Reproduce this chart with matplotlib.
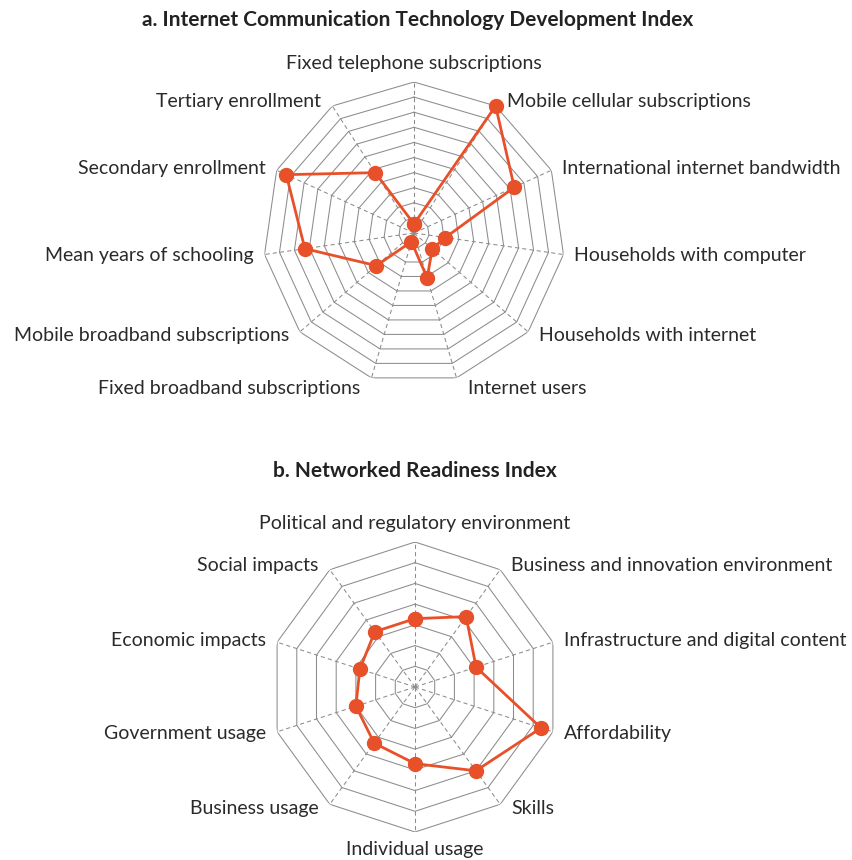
#!/usr/bin/env python3

import numpy as np
import matplotlib.pyplot as plt

plt.rcParams['font.family'] = ['Lato', 'DejaVu Sans']

# a. ICT Development Index (0-10 scale)
ict_labels = ['Fixed telephone subscriptions', 'Mobile cellular subscriptions',
              'International internet bandwidth', 'Households with computer',
              'Households with internet', 'Internet users',
              'Fixed broadband subscriptions', 'Mobile broadband subscriptions',
              'Mean years of schooling', 'Secondary enrollment', 'Tertiary enrollment']
ict_values = [0.6, 10.0, 7.3, 2.1, 1.6, 3.1, 0.6, 3.3, 7.3, 9.3, 4.75]

# b. Networked Readiness Index (0-7 scale)
nri_labels = ['Political and regulatory environment', 'Business and innovation environment',
              'Infrastructure and digital content', 'Affordability', 'Skills',
              'Individual usage', 'Business usage', 'Government usage',
              'Economic impacts', 'Social impacts']
nri_values = [3.3, 4.2, 3.1, 6.4, 5.0, 3.7, 3.35, 3.0, 2.8, 3.3]

RED = '#e8502a'
GRID = '#8c8c8c'
PX = 0.72  # points per pixel at 100 dpi


def radar(ax, labels, values, rmax):
    n = len(labels)
    theta = np.arange(n) * 2 * np.pi / n
    ax.set_theta_zero_location('N')
    ax.set_theta_direction(-1)
    ax.set_ylim(0, rmax)
    ax.grid(False)
    ax.spines['polar'].set_visible(False)
    ax.set_xticks([])
    ax.set_yticks([])
    ax.patch.set_alpha(0)

    closed = np.append(theta, theta[0])
    for r in range(1, rmax + 1):
        ax.plot(closed, [r] * len(closed), color=GRID, lw=0.75, zorder=1)
    for t in theta:
        ax.plot([t, t], [0, rmax], color=GRID, lw=0.75, ls=(0, (4, 3)), zorder=1)

    vals = np.append(values, values[0])
    ax.plot(closed, vals, color=RED, lw=2, marker='o', ms=10, zorder=3, clip_on=False)

    for t, lab in zip(theta, labels):
        s = np.sin(t)
        c = np.cos(t)
        if abs(s) < 0.1:
            ha, dx, dy = 'center', 0, 18 * np.sign(c)
        else:
            ha = 'left' if s > 0 else 'right'
            dx = 11 * np.sign(s)
            dy = 5 * c if abs(s) > 0.35 else -11
        ax.annotate(lab, xy=(t, rmax), xytext=(dx * PX, dy * PX),
                    textcoords='offset points', ha=ha, va='center',
                    fontsize=14, color='#2a2a2a', annotation_clip=False)


fig = plt.figure(figsize=(8.52, 8.60), dpi=100)
W, H = 852, 860

# chart a: centre (414, 233), radius 151 px
cx, cy, R = 414, 233, 151
ax1 = fig.add_axes([(cx - R) / W, (H - cy - R) / H, 2 * R / W, 2 * R / H], projection='polar')
radar(ax1, ict_labels, ict_values, 10)

# chart b: centre (415, 687), radius 145 px
cx, cy, R = 415, 687, 145
ax2 = fig.add_axes([(cx - R) / W, (H - cy - R) / H, 2 * R / W, 2 * R / H], projection='polar')
radar(ax2, nri_labels, nri_values, 7)

fig.text(418 / W, 1 - 20 / H, 'a. Internet Communication Technology Development Index',
         ha='center', va='center', fontsize=15, fontweight='bold', color='#222222')
fig.text(415 / W, 1 - 471 / H, 'b. Networked Readiness Index',
         ha='center', va='center', fontsize=15, fontweight='bold', color='#222222')

fig.savefig('out.png', dpi=100, facecolor='white')
